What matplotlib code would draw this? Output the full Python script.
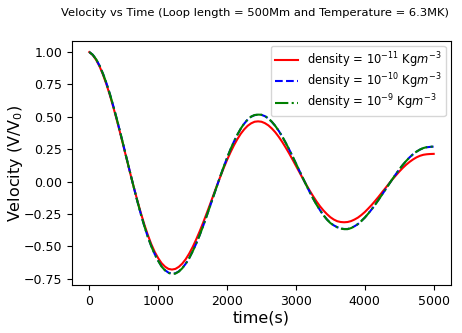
import matplotlib
matplotlib.use("Agg")
import matplotlib.pyplot as plt

time_s = [0, 50, 100, 150, 200, 250, 300, 350, 400, 450,
          500, 550, 600, 650, 700, 750, 800, 850, 900, 950,
          1000, 1050, 1100, 1150, 1200, 1250, 1300, 1350, 1400, 1450,
          1500, 1550, 1600, 1650, 1700, 1750, 1800, 1850, 1900, 1950,
          2000, 2050, 2100, 2150, 2200, 2250, 2300, 2350, 2400, 2450,
          2500, 2550, 2600, 2650, 2700, 2750, 2800, 2850, 2900, 2950,
          3000, 3050, 3100, 3150, 3200, 3250, 3300, 3350, 3400, 3450,
          3500, 3550, 3600, 3650, 3700, 3750, 3800, 3850, 3900, 3950,
          4000, 4050, 4100, 4150, 4200, 4250, 4300, 4350, 4400, 4450,
          4500, 4550, 4600, 4650, 4700, 4750, 4800, 4850, 4900, 4950,
          5000]

v_rho_1e11 = [1.000, 0.977, 0.939, 0.888, 0.824, 0.749, 0.665, 0.572, 0.474, 0.371,
              0.265, 0.158, 0.052, -0.051, -0.151, -0.245, -0.333, -0.412, -0.483, -0.543,
              -0.591, -0.630, -0.657, -0.674, -0.679, -0.674, -0.658, -0.633, -0.599, -0.556,
              -0.506, -0.449, -0.387, -0.321, -0.251, -0.180, -0.107, -0.035, 0.035, 0.103,
              0.167, 0.226, 0.280, 0.328, 0.370, 0.404, 0.431, 0.450, 0.462, 0.465,
              0.462, 0.451, 0.434, 0.410, 0.381, 0.346, 0.307, 0.264, 0.219, 0.171,
              0.122, 0.073, 0.024, -0.024, -0.070, -0.113, -0.154, -0.191, -0.223, -0.251,
              -0.275, -0.293, -0.306, -0.312, -0.314, -0.312, -0.305, -0.293, -0.278, -0.258,
              -0.235, -0.208, -0.180, -0.149, -0.117, -0.083, -0.050, -0.016, 0.016, 0.047,
              0.077, 0.105, 0.130, 0.152, 0.171, 0.187, 0.199, 0.207, 0.211, 0.213,
              0.214]

v_rho_1e10 = [1.000, 0.979, 0.944, 0.894, 0.831, 0.758, 0.674, 0.581, 0.482, 0.378,
              0.271, 0.162, 0.054, -0.053, -0.156, -0.254, -0.345, -0.427, -0.498, -0.560,
              -0.610, -0.654, -0.684, -0.703, -0.711, -0.708, -0.693, -0.668, -0.634, -0.591,
              -0.539, -0.481, -0.417, -0.347, -0.272, -0.195, -0.117, -0.039, 0.038, 0.112,
              0.183, 0.249, 0.309, 0.362, 0.409, 0.448, 0.479, 0.501, 0.513, 0.516,
              0.515, 0.505, 0.487, 0.461, 0.430, 0.392, 0.349, 0.301, 0.250, 0.196,
              0.140, 0.084, 0.028, -0.027, -0.081, -0.131, -0.178, -0.221, -0.259, -0.292,
              -0.319, -0.338, -0.352, -0.362, -0.366, -0.366, -0.358, -0.345, -0.328, -0.304,
              -0.278, -0.247, -0.214, -0.178, -0.140, -0.101, -0.061, -0.021, 0.019, 0.057,
              0.094, 0.128, 0.159, 0.187, 0.211, 0.231, 0.247, 0.259, 0.265, 0.268,
              0.270]

v_rho_1e9 = [1.000, 0.979, 0.944, 0.894, 0.831, 0.758, 0.674, 0.581, 0.482, 0.378,
             0.271, 0.162, 0.054, -0.053, -0.156, -0.254, -0.345, -0.427, -0.499, -0.561,
             -0.612, -0.656, -0.686, -0.705, -0.713, -0.710, -0.695, -0.669, -0.635, -0.592,
             -0.540, -0.481, -0.417, -0.347, -0.272, -0.195, -0.117, -0.039, 0.038, 0.112,
             0.183, 0.249, 0.309, 0.363, 0.410, 0.449, 0.480, 0.502, 0.514, 0.517,
             0.516, 0.506, 0.488, 0.462, 0.430, 0.392, 0.349, 0.301, 0.250, 0.196,
             0.140, 0.084, 0.028, -0.027, -0.081, -0.132, -0.179, -0.222, -0.260, -0.293,
             -0.320, -0.339, -0.353, -0.363, -0.367, -0.367, -0.359, -0.346, -0.328, -0.304,
             -0.278, -0.247, -0.214, -0.178, -0.140, -0.101, -0.061, -0.021, 0.019, 0.057,
             0.094, 0.128, 0.159, 0.187, 0.211, 0.231, 0.247, 0.259, 0.266, 0.269,
             0.271]

labels = [r'density = $10^{-11}$ Kg$m^{-3}$',
          r'density = $10^{-10}$ Kg$m^{-3}$',
          r'density = $10^{-9}$ Kg$m^{-3}$']

fig = plt.figure(figsize=(4.62, 3.33), dpi=100)
ax = fig.add_axes([0.156, 0.144, 0.820, 0.733])

ax.plot(time_s, v_rho_1e11, color='red', linestyle='-', linewidth=1.5, label=labels[0])
ax.plot(time_s, v_rho_1e10, color='blue', linestyle='--', linewidth=1.5, label=labels[1])
ax.plot(time_s, v_rho_1e9, color='green', linestyle='-.', linewidth=1.5, label=labels[2])

ax.set_xticks([0, 1000, 2000, 3000, 4000, 5000])
ax.set_yticks([-0.75, -0.5, -0.25, 0.0, 0.25, 0.5, 0.75, 1.0])
ax.tick_params(labelsize=9)
ax.set_xlabel('time(s)', fontsize=11.5, labelpad=2)
ax.set_ylabel(r'Velocity (V/V$_0$)', fontsize=11.5)
ax.yaxis.set_label_coords(-0.124, 0.5)
ax.legend(loc='upper right', fontsize=8.3, labelspacing=0.15, borderpad=0.35,
          borderaxespad=0.45)

fig.text(0.552, 0.962, 'Velocity vs Time (Loop length = 500Mm and Temperature = 6.3MK)',
         ha='center', va='center', fontsize=8.25)

fig.savefig('out.png', dpi=100)
